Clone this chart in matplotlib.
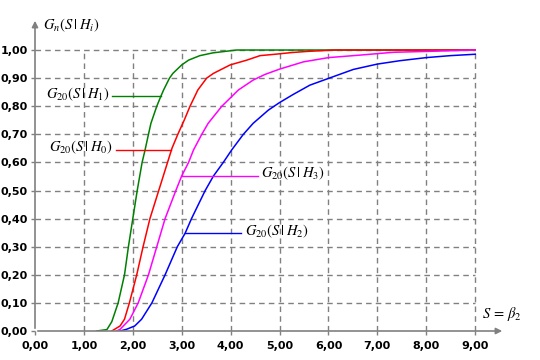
import matplotlib
matplotlib.use("Agg")
import matplotlib.pyplot as plt
from matplotlib.ticker import FuncFormatter

h1_x = [1.26, 1.47, 1.57, 1.70, 1.83, 1.91, 2.00, 2.09, 2.19, 2.25, 2.32, 2.37, 2.49, 2.57, 2.63, 2.75, 2.82, 3.00, 3.14, 3.37, 3.64, 4.12, 9.00]
h1_y = [0.00, 0.005, 0.033, 0.10, 0.20, 0.30, 0.40, 0.50, 0.60, 0.644, 0.70, 0.739, 0.80, 0.834, 0.858, 0.90, 0.917, 0.947, 0.964, 0.98, 0.99, 1.00, 1.00]

h0_x = [1.57, 1.74, 1.83, 1.93, 2.08, 2.21, 2.35, 2.53, 2.71, 2.80, 2.92, 3.05, 3.17, 3.33, 3.51, 3.65, 3.99, 4.33, 4.60, 4.91, 5.25, 5.56, 6.13, 9.00]
h0_y = [0.00, 0.018, 0.042, 0.10, 0.20, 0.30, 0.40, 0.50, 0.60, 0.65, 0.70, 0.75, 0.80, 0.858, 0.90, 0.917, 0.947, 0.964, 0.98, 0.985, 0.991, 0.995, 1.00, 1.00]

h3_x = [1.67, 1.74, 1.94, 2.11, 2.32, 2.49, 2.66, 2.88, 3.00, 3.14, 3.24, 3.41, 3.54, 3.82, 4.16, 4.46, 4.70, 5.00, 5.49, 6.00, 6.65, 7.33, 8.00, 9.00]
h3_y = [0.00, 0.006, 0.042, 0.10, 0.20, 0.30, 0.40, 0.50, 0.552, 0.60, 0.644, 0.70, 0.739, 0.80, 0.858, 0.893, 0.913, 0.932, 0.958, 0.973, 0.982, 0.992, 0.995, 1.00]

h2_x = [1.74, 1.87, 2.04, 2.18, 2.39, 2.66, 2.91, 3.07, 3.20, 3.48, 3.65, 3.85, 4.02, 4.26, 4.46, 4.77, 5.00, 5.28, 5.62, 6.00, 6.51, 7.00, 7.46, 8.00, 8.49, 9.00]
h2_y = [0.00, 0.006, 0.018, 0.042, 0.10, 0.20, 0.30, 0.348, 0.40, 0.50, 0.552, 0.60, 0.644, 0.70, 0.739, 0.786, 0.813, 0.842, 0.875, 0.899, 0.931, 0.95, 0.962, 0.973, 0.98, 0.985]

x_ticks = [0, 1, 2, 3, 4, 5, 6, 7, 8, 9]
y_ticks = [0.0, 0.1, 0.2, 0.3, 0.4, 0.5, 0.6, 0.7, 0.8, 0.9, 1.0]

# callouts: (label, colour, y, line start, line end, text x, align)
callouts = [
    (r"$G_{20}(S\,|\;H_1)$", "#008000", 0.835, 1.57, 2.58, 1.53, "right"),
    (r"$G_{20}(S\,|\;H_0)$", "#ff0000", 0.645, 1.66, 2.78, 1.60, "right"),
    (r"$G_{20}(S\,|\;H_3)$", "#ff00ff", 0.552, 3.00, 4.56, 4.62, "left"),
    (r"$G_{20}(S\,|\;H_2)$", "#0000ff", 0.348, 3.07, 4.22, 4.29, "left"),
]

GRAY = "#808080"
plt.rcParams["mathtext.fontset"] = "stix"

fig = plt.figure(figsize=(5.4, 3.6), dpi=100)
ax = fig.add_axes([35 / 540, 29 / 360, 470 / 540, 313 / 360])
ax.set_xlim(0, 9.61)
ax.set_ylim(0, 1.114)

# grid limited to the data box
for xv in x_ticks[1:]:
    ax.plot([xv, xv], [0, 1.0], color=GRAY, lw=1, ls=(0, (4, 3)), zorder=1)
for yv in y_ticks[1:]:
    ax.plot([0, 9], [yv, yv], color=GRAY, lw=1, ls=(0, (4, 3)), zorder=1)

ax.plot(h1_x, h1_y, color="#008000", lw=1.1, zorder=3)
ax.plot(h0_x, h0_y, color="#ff0000", lw=1.1, zorder=3)
ax.plot(h3_x, h3_y, color="#ff00ff", lw=1.1, zorder=3)
ax.plot(h2_x, h2_y, color="#0000ff", lw=1.1, zorder=3)

for label, col, yv, x0, x1, tx, ha in callouts:
    ax.plot([x0, x1], [yv, yv], color=col, lw=1, zorder=3)
    ax.text(tx, yv + 0.008, label, color="black", fontsize=10.5, ha=ha, va="center")

# axes with arrow heads
for s in ax.spines.values():
    s.set_visible(False)
ax.annotate("", xy=(9.61, 0), xytext=(0, 0), annotation_clip=False,
            arrowprops=dict(arrowstyle="-|>", color=GRAY, lw=1.2, mutation_scale=9))
ax.annotate("", xy=(0, 1.114), xytext=(0, 0), annotation_clip=False,
            arrowprops=dict(arrowstyle="-|>", color=GRAY, lw=1.2, mutation_scale=9))

ax.set_xticks(x_ticks)
ax.set_yticks(y_ticks)
fmt = FuncFormatter(lambda v, pos: ("%.2f" % v).replace(".", ","))
ax.xaxis.set_major_formatter(fmt)
ax.yaxis.set_major_formatter(fmt)
ax.tick_params(direction="out", length=3, color=GRAY, width=1, labelsize=8)
ax.tick_params(axis="x", pad=4)
ax.tick_params(axis="y", pad=2)
for t in ax.get_xticklabels() + ax.get_yticklabels():
    t.set_fontweight("bold")

ax.text(0.16, 1.089, r"$G_n(S\,|\;H_i)$", fontsize=10.5, ha="left", va="center")
ax.text(9.14, 0.06, r"$S\,=\,\beta_2$", fontsize=10.5, ha="left", va="center")

fig.savefig("out.png", dpi=100)
